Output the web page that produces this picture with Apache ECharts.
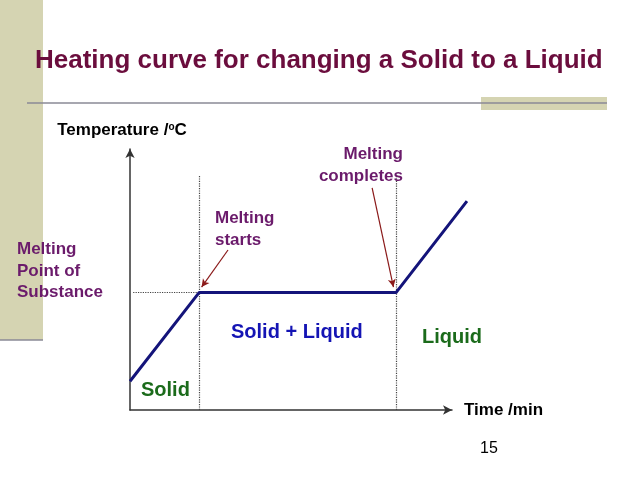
<!DOCTYPE html>
<html>
<head>
<meta charset="UTF-8">
<title>Heating curve</title>
<script type="text/javascript" src="https://cdn.jsdelivr.net/npm/echarts@6/dist/echarts.min.js"></script>
<style>
  html, body { margin: 0; padding: 0; background: #fff; }
</style>
</head>
<body>
<div id="main" style="width: 638px;height:479px;"></div>
<script type="text/javascript">

  // time / temperature points of the curve (arbitrary units)
  var times = [0, 2.17, 8.36, 10.59];
  var temps = [11, 45, 45, 80];
  var meltTemp = 45;
  var meltStart = 2.17;
  var meltEnd = 8.36;
  var guideTop = 90;   // where dotted vertical guides begin

  var curve = [];
  for (var i = 0; i < times.length; ++i) {
    curve.push([times[i], temps[i]]);
  }

  var font = 'Liberation Sans, Arial, sans-serif';
  var purple = '#6b1b6b';
  var arrowRed = '#8b1a1a';

  var myChart = echarts.init(document.getElementById('main'));

  var hiddenAxis = {
    axisLine: { show: false },
    axisTick: { show: false },
    axisLabel: { show: false },
    splitLine: { show: false }
  };

  var option = {
    backgroundColor: '#fff',
    animation: false,
    // grid 0 holds the curve (a bit wider so the liquid line runs past the arrow)
    // grid 1 only draws the two axes with arrows
    grid: [
      { left: 130, right: 158, top: 149, bottom: 69 },
      { left: 130, right: 186, top: 149, bottom: 69 }
    ],
    xAxis: [
      Object.assign({ type: 'value', gridIndex: 0, min: 0, max: 11 }, hiddenAxis),
      {
        type: 'value',
        gridIndex: 1,
        min: 0,
        max: 10,
        name: 'Time /min',
        nameLocation: 'end',
        nameGap: 12,
        nameTextStyle: { color: '#000', fontFamily: font, fontWeight: 'bold', fontSize: 17 },
        axisLine: { show: true, symbol: ['none', 'arrow'], symbolSize: [7, 9], lineStyle: { color: '#333', width: 1.5 } },
        axisTick: { show: false },
        axisLabel: { show: false },
        splitLine: { show: false }
      }
    ],
    yAxis: [
      Object.assign({ type: 'value', gridIndex: 0, min: 0, max: 100 }, hiddenAxis),
      {
        type: 'value',
        gridIndex: 1,
        min: 0,
        max: 100,
        name: 'Temperature /{sup|o}C',
        nameLocation: 'end',
        nameGap: 10,
        nameTextStyle: {
          color: '#000', fontFamily: font, fontWeight: 'bold', fontSize: 17,
          padding: [0, 16, 0, 0],
          rich: { sup: { fontSize: 10, fontWeight: 'bold', color: '#000', verticalAlign: 'top', padding: [0, 0, 7, 0] } }
        },
        axisLine: { show: true, symbol: ['none', 'arrow'], symbolSize: [7, 9], lineStyle: { color: '#333', width: 1.5 } },
        axisTick: { show: false },
        axisLabel: { show: false },
        splitLine: { show: false }
      }
    ],
    series: [
      {
        type: 'line',
        xAxisIndex: 0,
        yAxisIndex: 0,
        data: curve,
        symbol: 'none',
        lineStyle: { color: '#14147a', width: 3 },
        z: 5
      },
      {
        // dotted guide lines
        type: 'line',
        xAxisIndex: 0,
        yAxisIndex: 0,
        data: [],
        symbol: 'none',
        markLine: {
          silent: true,
          symbol: ['none', 'none'],
          label: { show: false },
          lineStyle: { color: '#444', type: 'dotted', width: 1.2 },
          data: [
            [{ coord: [meltStart, 0] }, { coord: [meltStart, guideTop] }],
            [{ coord: [meltEnd, 0] }, { coord: [meltEnd, guideTop] }],
            [{ coord: [0.1, meltTemp] }, { coord: [meltStart, meltTemp] }]
          ]
        },
        z: 2
      },
      {
        // annotation arrows
        type: 'line',
        xAxisIndex: 0,
        yAxisIndex: 0,
        data: [],
        clip: false,
        symbol: 'none',
        markLine: {
          silent: true,
          symbol: ['none', 'arrow'],
          symbolSize: [6, 8],
          label: { show: false },
          lineStyle: { color: arrowRed, type: 'solid', width: 1.2 },
          data: [
            [{ coord: [-1.41, 55.6] }, { coord: [-0.06, meltTemp] }],
            [{ coord: [3.08, 61.3] }, { coord: [meltStart + 0.08, 47.1] }],
            [{ coord: [7.61, 85.1] }, { coord: [meltEnd - 0.08, 47.1] }]
          ]
        },
        z: 3
      }
    ],
    graphic: {
      elements: [
        // slide decoration
        { type: 'rect', left: 0, top: 0, shape: { width: 43, height: 340 }, style: { fill: '#d5d4b2' }, z: 0 },
        { type: 'rect', left: 481, top: 97, shape: { width: 126, height: 13 }, style: { fill: '#d5d4b2' }, z: 0 },
        { type: 'line', shape: { x1: 27, y1: 103, x2: 607, y2: 103 }, style: { stroke: '#8a8a96', lineWidth: 1.5 }, z: 1 },
        { type: 'line', shape: { x1: 0, y1: 340, x2: 43, y2: 340 }, style: { stroke: '#8a8a96', lineWidth: 1.5 }, z: 1 },
        {
          type: 'text', left: 35, top: 48, z: 10,
          style: { text: 'Heating curve for changing a Solid to a Liquid', font: 'bold 26px ' + font, fill: '#6b0d3d' }
        },
        // annotations
        {
          type: 'text', left: 17, top: 239, z: 10,
          style: { text: 'Melting\nPoint of\nSubstance', font: 'bold 17px ' + font, lineHeight: 21.5, fill: purple }
        },
        {
          type: 'text', left: 215, top: 208, z: 10,
          style: { text: 'Melting\nstarts', font: 'bold 17px ' + font, lineHeight: 21.5, fill: purple }
        },
        {
          type: 'text', right: 235, top: 146, z: 10,
          style: { text: 'Melting', font: 'bold 17px ' + font, fill: purple }
        },
        {
          type: 'text', right: 235, top: 168, z: 10,
          style: { text: 'completes', font: 'bold 17px ' + font, fill: purple }
        },
        {
          type: 'text', left: 231, top: 322, z: 10,
          style: { text: 'Solid + Liquid', font: 'bold 20px ' + font, fill: '#1414b4' }
        },
        {
          type: 'text', left: 422, top: 327, z: 10,
          style: { text: 'Liquid', font: 'bold 20px ' + font, fill: '#1b6b1b' }
        },
        {
          type: 'text', left: 141, top: 380, z: 10,
          style: { text: 'Solid', font: 'bold 20px ' + font, fill: '#1b6b1b' }
        },
        {
          type: 'text', left: 480, top: 441, z: 10,
          style: { text: '15', font: '16px ' + font, fill: '#000' }
        }
      ]
    }
  };

  myChart.setOption(option);
</script>
</body>
</html>
